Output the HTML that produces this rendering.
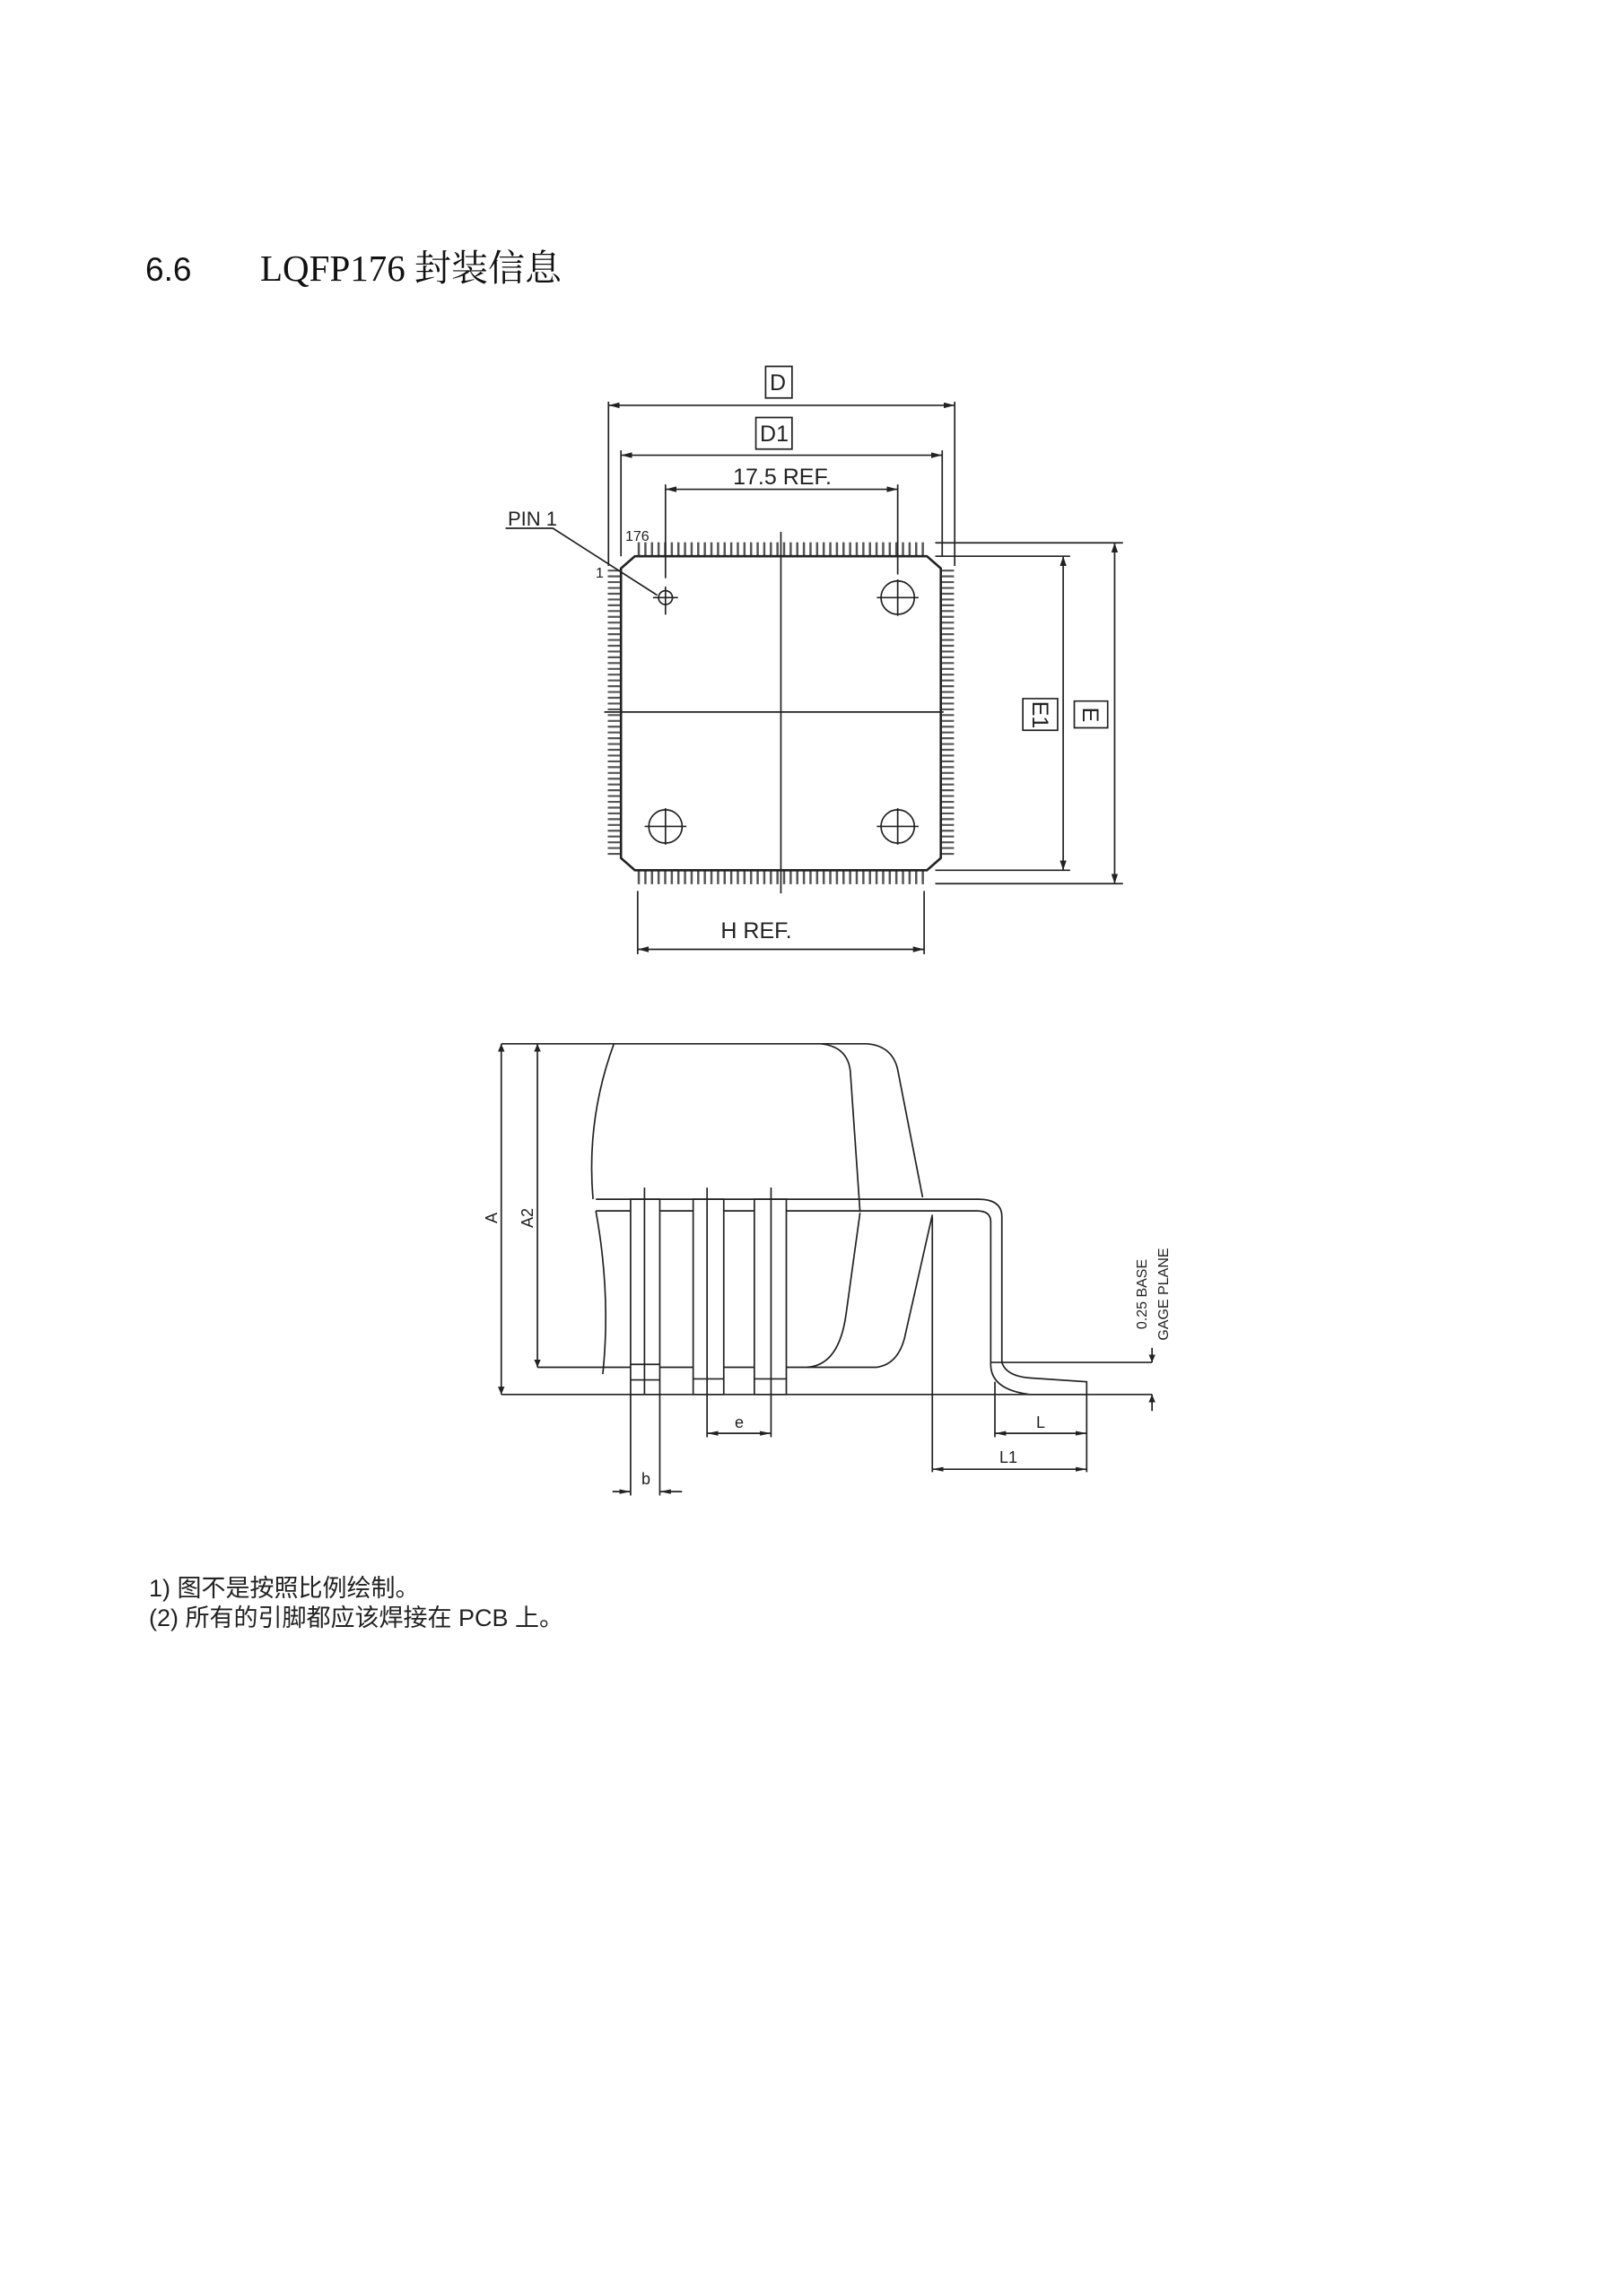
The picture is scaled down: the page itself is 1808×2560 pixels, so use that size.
<!DOCTYPE html>
<html><head><meta charset="utf-8"><style>
html,body{margin:0;padding:0;background:#fff;}
body{width:1808px;height:2560px;position:relative;overflow:hidden;}
svg{position:absolute;left:0;top:0;}
.ns line,.ns path,.ns polyline,.ns rect,.ns circle{vector-effect:non-scaling-stroke;}
</style></head><body>
<svg width="1808" height="2560" viewBox="0 0 1808 2560" xmlns="http://www.w3.org/2000/svg" font-family="Liberation Sans, sans-serif">
<defs>
<marker id="ar" viewBox="0 0 10 6" refX="10" refY="3" markerWidth="8" markerHeight="5" orient="auto-start-reverse" markerUnits="userSpaceOnUse"><path d="M0,0 L10,3 L0,6 z" fill="#222"/></marker>
</defs>
<text x="162" y="313" font-size="37" fill="#111">6.6</text>
<text x="290" y="313" font-size="41" fill="#111" font-family="Liberation Serif, Noto Serif CJK SC, serif">LQFP176 封装信息</text>

<g transform="translate(500,380) scale(1.55,1.357) translate(-500,-380)">
<g stroke="#555" fill="none">
<path d="M636,551 H845" stroke-dasharray="1.6 3.15" stroke-width="11"/>
<path d="M636,821 H845" stroke-dasharray="1.6 3.15" stroke-width="11"/>
<path d="M619,568 V803" stroke-dasharray="1.6 3.15" stroke-width="9"/>
<path d="M859,568 V803" stroke-dasharray="1.6 3.15" stroke-width="9"/>
</g>
<g class="ns" stroke="#222" fill="none" stroke-width="1.7">
<path d="M634,557 H844 L854,567 V805 L844,815 H634 L624,805 V567 Z" stroke-width="2.6" fill="#fff"/>
<line x1="739" y1="537" x2="739" y2="834"/>
<line x1="612" y1="685" x2="856" y2="685"/>
<ellipse cx="656" cy="591" rx="5" ry="5.7" style="vector-effect:non-scaling-stroke"/><line x1="647" y1="591" x2="665" y2="591"/><line x1="656" y1="582" x2="656" y2="605"/>
<ellipse cx="823" cy="591" rx="12" ry="13.7" style="vector-effect:non-scaling-stroke"/><line x1="808" y1="591" x2="838" y2="591"/><line x1="823" y1="576" x2="823" y2="606"/>
<ellipse cx="656" cy="779" rx="12" ry="13.7" style="vector-effect:non-scaling-stroke"/><line x1="641" y1="779" x2="671" y2="779"/><line x1="656" y1="764" x2="656" y2="794"/>
<ellipse cx="823" cy="779" rx="12" ry="13.7" style="vector-effect:non-scaling-stroke"/><line x1="808" y1="779" x2="838" y2="779"/><line x1="823" y1="764" x2="823" y2="794"/>
<line x1="615" y1="430" x2="615" y2="565"/><line x1="864" y1="430" x2="864" y2="565"/>
<line x1="624" y1="470" x2="624" y2="557"/><line x1="855" y1="470" x2="855" y2="557"/>
<line x1="656" y1="498" x2="656" y2="575"/><line x1="823" y1="498" x2="823" y2="572"/>
<line x1="615" y1="433" x2="864" y2="433" marker-start="url(#ar)" marker-end="url(#ar)"/>
<line x1="624" y1="474" x2="855" y2="474" marker-start="url(#ar)" marker-end="url(#ar)"/>
<line x1="656" y1="502" x2="823" y2="502" marker-start="url(#ar)" marker-end="url(#ar)"/>
<polyline points="541,534 575,534 650,589"/>
<line x1="850" y1="557" x2="947" y2="557"/><line x1="850" y1="815" x2="947" y2="815"/>
<line x1="942" y1="557" x2="942" y2="815" marker-start="url(#ar)" marker-end="url(#ar)"/>
<line x1="850" y1="546" x2="985" y2="546"/><line x1="850" y1="826" x2="985" y2="826"/>
<line x1="979" y1="546" x2="979" y2="826" marker-start="url(#ar)" marker-end="url(#ar)"/>
<line x1="636" y1="832" x2="636" y2="884"/><line x1="842" y1="832" x2="842" y2="884"/>
<line x1="636" y1="880" x2="842" y2="880" marker-start="url(#ar)" marker-end="url(#ar)"/>
<rect x="728" y="401" width="19" height="26"/>
<rect x="721" y="443" width="26" height="26"/>
<rect x="913" y="674" width="25" height="26"/>
<rect x="950" y="676" width="24" height="22"/>
</g>
</g>
<g fill="#222" font-size="25">
<text x="867" y="435" text-anchor="middle">D</text>
<text x="863" y="492" text-anchor="middle">D1</text>
<text x="872" y="540" text-anchor="middle">17.5  REF.</text>
<text x="566" y="586" font-size="22">PIN  1</text>
<text x="697" y="603" font-size="16">176</text>
<text x="664" y="644" font-size="16">1</text>
<text x="843" y="1046" text-anchor="middle">H  REF.</text>
<text transform="translate(1160,797) rotate(90)" text-anchor="middle" y="9">E1</text>
<text transform="translate(1216,797) rotate(90)" text-anchor="middle" y="9">E</text>
</g>

<g transform="translate(520,1140) scale(1.55,1.083) translate(-520,-1140)">
<g class="ns" stroke="#222" fill="none" stroke-width="1.7">
<path d="M545,1162 H808 Q826,1164 830,1188 L848,1320"/>
<path d="M626,1162 Q606,1240 611,1322"/>
<path d="M613,1334 Q624,1420 618,1502"/>
<path d="M775,1162 Q794,1165 796,1190 L803,1335"/>
<path d="M803,1336 L793,1440 Q788,1493 765,1495"/>
<path d="M571,1495 H815 Q830,1492 835,1465 L855,1338"/>
<path d="M613,1322 H888 Q905,1322 905,1340 V1490 Q908,1504 925,1506 L966,1510 V1523 H925 Q897,1518 897,1492 V1345 Q897,1334 887,1334 H613"/>
<rect x="638" y="1322" width="21" height="201" fill="#fff"/>
<rect x="683" y="1322" width="22" height="201" fill="#fff"/>
<rect x="727" y="1322" width="23" height="201" fill="#fff"/>
<line x1="638" y1="1508" x2="659" y2="1508"/>
<line x1="638" y1="1492" x2="659" y2="1492"/>
<line x1="683" y1="1507" x2="705" y2="1507"/>
<line x1="727" y1="1507" x2="750" y2="1507"/>
<line x1="648" y1="1310" x2="648" y2="1523"/><line x1="693" y1="1310" x2="693" y2="1567"/><line x1="739" y1="1310" x2="739" y2="1567"/>
<line x1="545" y1="1523" x2="1013" y2="1523"/>
<line x1="897" y1="1490" x2="1013" y2="1490"/>
<line x1="545" y1="1162" x2="545" y2="1523" marker-start="url(#ar)" marker-end="url(#ar)"/>
<line x1="571" y1="1162" x2="571" y2="1495" marker-start="url(#ar)" marker-end="url(#ar)"/>
<line x1="1013" y1="1475" x2="1013" y2="1490" marker-end="url(#ar)"/>
<line x1="1013" y1="1540" x2="1013" y2="1523" marker-end="url(#ar)"/>
<line x1="693" y1="1563" x2="739" y2="1563" marker-start="url(#ar)" marker-end="url(#ar)"/>
<line x1="638" y1="1523" x2="638" y2="1627"/><line x1="659" y1="1523" x2="659" y2="1627"/>
<line x1="625" y1="1623" x2="638" y2="1623" marker-end="url(#ar)"/>
<line x1="675" y1="1623" x2="659" y2="1623" marker-end="url(#ar)"/>
<line x1="900" y1="1510" x2="900" y2="1567"/><line x1="966" y1="1523" x2="966" y2="1603"/>
<line x1="900" y1="1563" x2="966" y2="1563" marker-start="url(#ar)" marker-end="url(#ar)"/>
<line x1="855" y1="1340" x2="855" y2="1603"/>
<line x1="855" y1="1600" x2="966" y2="1600" marker-start="url(#ar)" marker-end="url(#ar)"/>
</g>
</g>
<g fill="#222" font-size="18">
<text transform="translate(557,1358) rotate(-90)" text-anchor="middle" y="-3">A</text>
<text transform="translate(597,1358) rotate(-90)" text-anchor="middle" y="-3">A2</text>
<text x="824" y="1592" text-anchor="middle">e</text>
<text x="720" y="1655" text-anchor="middle">b</text>
<text x="1160" y="1592" text-anchor="middle">L</text>
<text x="1124" y="1631" text-anchor="middle">L1</text>
<text transform="translate(1278,1443) rotate(-90)" text-anchor="middle" font-size="16">0.25  BASE</text>
<text transform="translate(1302,1443) rotate(-90)" text-anchor="middle" font-size="16">GAGE  PLANE</text>
</g>

<g fill="#222" font-size="27" font-family="Liberation Sans, Noto Sans CJK SC, sans-serif">
<text x="166" y="1780">1) 图不是按照比例绘制。</text>
<text x="166" y="1813">(2) 所有的引脚都应该焊接在 PCB 上。</text>
</g>
</svg>
</body></html>
